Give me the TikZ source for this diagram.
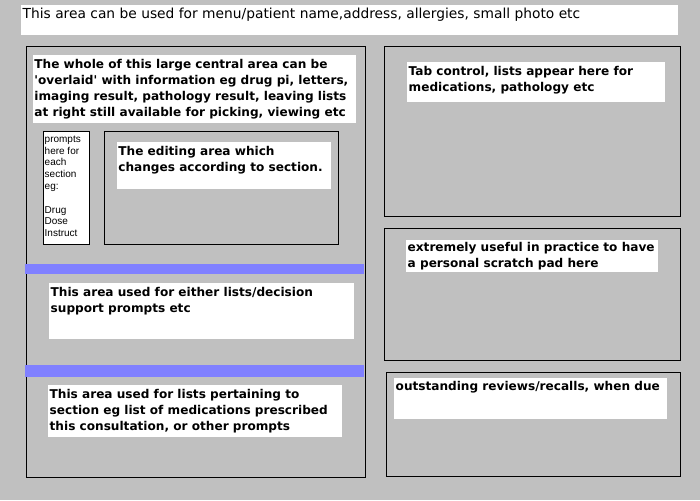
\documentclass[tikz,border=0pt]{standalone}
\usepackage{fontspec}
\setmainfont{DejaVu Sans}[Ligatures=TeXOff]
\newfontfamily\promptfont{Liberation Sans}
\usepackage{xcolor}
\usetikzlibrary{positioning}

\definecolor{formgray}{HTML}{C0C0C0}
\definecolor{splitblue}{HTML}{8080FF}
% white text area: width, height, first baseline, text
\newcommand{\areatext}[4]{\parbox[c][#2pt][t]{#1pt}{\leftskip=1.5pt\rule{0pt}{#3pt}#4}}

\begin{document}
\begin{tikzpicture}[x=1pt,y=-1pt]
    \tikzstyle{panel}=[draw=black, line width=1pt, fill=formgray, inner sep=0pt, anchor=north west]
    \tikzstyle{note}=[fill=white, inner sep=0pt, anchor=north west, font=\bfseries\fontsize{12.1}{16}\selectfont]
    \tikzstyle{splitter}=[fill=splitblue, inner sep=0pt, anchor=north west]
    \useasboundingbox [fill=formgray] (0,0) rectangle (700,500);

	\node [note, font=\fontsize{13.8}{16}\selectfont] (header) at (21,4.7)
	{\areatext{657}{30}{13.2}{This area can be used for menu/patient name,address, allergies, small photo etc}};

	% central area
	\node [panel, minimum width=339, minimum height=430] (centre) at (25.5,46.5) {};
	\node [note] (overlay) at (32.7,54.7) {\areatext{323}{68.3}{13.5}{The whole of this large central area can be\\
	'overlaid' with information eg drug pi, letters,\\
	imaging result, pathology result, leaving lists\\
	at right still available for picking, viewing etc}};
	\node [panel, fill=white, minimum width=46, minimum height=113.3] (prompts) at (42.7,130.7)
	{\parbox[c][113pt][t]{46pt}{\leftskip=1.5pt\promptfont\fontsize{10}{11.8}\selectfont\rule{0pt}{11pt}prompts\\ here for\\ each\\ section\\ eg:\\[11.8pt] Drug\\ Dose\\ Instruct}};
	\node [panel, minimum width=234, minimum height=113] (editor) at (104.3,131) {};
	\node [note] (editnote) at (116.7,142) {\areatext{214.3}{46.7}{13}{The editing area which\\ changes according to section.}};

	\node [splitter, minimum width=339.5, minimum height=10.7] (split1) at (24.5,263.3) {};
	\node [note] (decision) at (49,283) {\areatext{305}{55.7}{13}{This area used for either lists/decision\\ support prompts etc}};
	\node [splitter, minimum width=339.5, minimum height=12] (split2) at (24.5,365) {};
	\node [note] (medlist) at (48,385) {\areatext{294}{51.7}{13}{This area used for lists pertaining to\\ section eg list of medications prescribed\\ this consultation, or other prompts}};

	% right hand lists
	\node [panel, minimum width=296, minimum height=170] (tabs) at (383.5,46.3) {};
	\node [note] (tabnote) at (407,62) {\areatext{258}{39.7}{13}{Tab control, lists appear here for\\ medications, pathology etc}};
	\node [panel, minimum width=296, minimum height=131.7] (scratch) at (384.3,228.3) {};
	\node [note] (scratchnote) at (406,240) {\areatext{252}{31.7}{11.5}{extremely useful in practice to have\\ a personal scratch pad here}};
	\node [panel, minimum width=294, minimum height=104] (recalls) at (386.3,372.3) {};
	\node [note] (recallnote) at (394,378) {\areatext{273}{40.7}{12.5}{outstanding reviews/recalls, when due}};
\end{tikzpicture}
\end{document}
